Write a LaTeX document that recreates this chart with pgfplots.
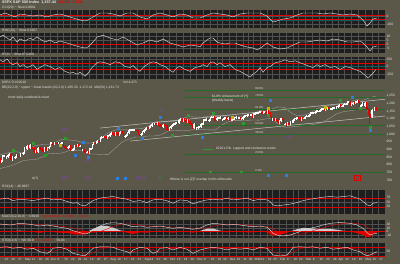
\documentclass[border=0pt]{standalone}
\usepackage{fontspec}
\setmainfont{Liberation Sans}
\usepackage{pgfplots}
\pgfplotsset{compat=1.18}
\usepackage{pgfplotstable}
\usepgfplotslibrary{fillbetween}
\definecolor{pagebg}{HTML}{5C5849}
\definecolor{panelbg}{HTML}{1E1E1E}
\definecolor{gridc}{HTML}{505050}
\definecolor{linec}{HTML}{D8D8D8}
\definecolor{redc}{HTML}{E00000}
\definecolor{tealc}{HTML}{0A5E60}
\definecolor{labc}{HTML}{E6E6E6}
\definecolor{fibg}{HTML}{256B25}
\definecolor{fibm}{HTML}{2F9A2F}
\definecolor{wavep}{HTML}{8A3CC8}
\definecolor{sigblue}{HTML}{2A7FE0}
\definecolor{sigyel}{HTML}{C8B400}
\definecolor{bandedge}{HTML}{A0A0A0}
\newcommand{\tf}{\fontsize{3.3pt}{3.6pt}\selectfont}
\newcommand{\fibfont}{\fontsize{2.8pt}{3pt}\selectfont}

\pgfplotstableread{
o c
797 811
811 834
834 843
843 835
835 816
816 825
825 857
857 859
859 842
842 852
852 865
865 870
870 832
832 850
850 844
844 852
852 866
866 858
858 855
855 874
874 873
873 878
878 907
907 904
904 920
920 907
907 929
929 909
909 908
908 884
884 893
893 883
883 910
910 908
908 903
903 888
888 887
887 910
910 893
893 907
907 919
919 943
943 945
945 932
932 942
942 940
940 939
939 942
942 939
939 945
945 946
946 924
924 912
912 911
911 918
918 921
921 893
893 895
895 901
901 920
920 919
919 927
927 919
919 923
923 896
896 899
899 881
881 880
880 883
883 879
879 901
901 906
906 933
933 941
941 940
940 951
951 955
955 954
954 976
976 979
979 982
982 980
980 975
975 987
987 987
987 1003
1003 1006
1006 1003
1003 997
997 1010
1010 1007
1007 994
994 1006
1006 1013
1013 1004
1004 980
980 990
990 996
996 1007
1007 1026
1026 1026
1026 1028
1028 1028
1028 1031
1031 1029
1029 1021
1021 998
998 995
995 1003
1003 1016
1016 1025
1025 1033
1033 1044
1044 1043
1043 1049
1049 1053
1053 1069
1069 1065
1065 1068
1068 1065
1065 1072
1072 1061
1061 1051
1051 1044
1044 1063
1063 1061
1061 1057
1057 1030
1030 1025
1025 1040
1040 1055
1055 1058
1058 1065
1065 1071
1071 1076
1076 1073
1073 1092
1092 1097
1097 1088
1088 1098
1098 1091
1091 1081
1081 1093
1093 1080
1080 1067
1067 1063
1063 1043
1043 1066
1066 1036
1036 1043
1043 1045
1045 1047
1047 1067
1067 1069
1069 1093
1093 1093
1093 1099
1099 1087
1087 1093
1093 1109
1109 1110
1110 1110
1110 1095
1095 1091
1091 1106
1106 1106
1106 1111
1111 1091
1091 1096
1096 1109
1109 1109
1109 1100
1100 1106
1106 1103
1103 1092
1092 1096
1096 1102
1102 1106
1106 1114
1114 1108
1108 1109
1109 1096
1096 1102
1102 1114
1114 1118
1118 1121
1121 1126
1126 1128
1128 1126
1126 1126
1126 1115
1115 1133
1133 1137
1137 1137
1137 1142
1142 1145
1145 1147
1147 1136
1136 1146
1146 1148
1148 1136
1136 1150
1150 1138
1138 1116
1116 1092
1092 1097
1097 1092
1092 1098
1098 1085
1085 1074
1074 1089
1089 1103
1103 1097
1097 1063
1063 1066
1066 1057
1057 1071
1071 1068
1068 1078
1078 1076
1076 1095
1095 1100
1100 1107
1107 1109
1109 1108
1108 1095
1095 1105
1105 1103
1103 1104
1104 1116
1116 1118
1118 1119
1119 1123
1123 1139
1139 1139
1139 1140
1140 1146
1146 1150
1150 1150
1150 1151
1151 1159
1159 1166
1166 1166
1166 1160
1160 1166
1166 1174
1174 1168
1168 1166
1166 1167
1167 1173
1173 1173
1173 1169
1169 1178
1178 1187
1187 1189
1189 1182
1182 1186
1186 1194
1194 1196
1196 1197
1197 1211
1211 1212
1212 1192
1192 1198
1198 1207
1207 1206
1206 1209
1209 1217
1217 1212
1212 1184
1184 1191
1191 1207
1207 1187
1187 1202
1202 1174
1174 1166
1166 1128
1128 1111
1111 1160
1160 1156
1156 1172
1172 1157
}\spx

\pgfplotstableread{
i u l
0 860 770
4 865 775
11 880 790
16 885 805
21 877 827
26 912 832
31 926 836
36 934 854
40 934 874
45 948 872
50 967 877
55 962 892
60 958 894
64 948 892
69 941 871
74 946 870
79 977 867
84 1008 868
89 1028 908
94 1029 949
99 1028 968
104 1037 981
109 1038 982
113 1048 988
118 1078 988
123 1086 996
128 1081 1021
133 1086 1026
138 1102 1022
143 1115 1025
148 1112 1032
153 1111 1031
158 1118 1028
163 1124 1028
167 1118 1058
172 1121 1081
177 1117 1089
182 1117 1089
186 1126 1090
190 1133 1093
195 1152 1092
200 1164 1100
204 1163 1103
209 1179 1069
214 1175 1045
219 1137 1047
223 1122 1052
228 1125 1055
233 1140 1060
238 1169 1069
243 1183 1083
248 1189 1109
252 1192 1132
257 1197 1147
262 1213 1153
267 1225 1161
272 1223 1173
277 1240 1140
281 1250 1110
}\bb

\pgfplotstableread{
px v
0 25
5 75
10 25
15 -25
20 50
27 25
33 0
40 25
47 -25
53 25
60 50
67 0
73 -50
80 -100
85 -125
88 -100
93 -25
100 75
107 75
113 50
120 0
127 75
133 75
140 -25
147 -75
153 25
160 75
167 25
173 -25
180 50
187 25
193 -50
200 -50
207 25
213 75
220 50
227 25
233 -25
240 50
247 75
253 75
260 75
267 0
273 -150
277 -125
283 -75
290 -50
297 25
303 75
310 75
317 75
323 50
330 75
337 50
343 25
350 50
357 25
363 -100
367 -250
370 -175
373 -75
377 -50
}\pone

\pgfplotstableread{
px v
0 8.75
3 11
7 7.5
10 5
13 8.75
17 2.5
20 6.25
25 3.75
30 7.5
33 5
37 8.75
40 6.25
45 2.5
50 5
55 1.25
60 3.75
67 1.25
73 -1.25
80 -3.75
85 -5
88 -3.75
93 2.5
97 8.75
103 11
110 7.5
117 5
123 8.75
130 3.75
137 -1.25
143 1.25
150 5
157 2.5
163 6.25
170 1.25
177 -1.25
183 -3.75
190 -1.25
197 -2.5
200 -3.75
203 1.25
207 5
210 7.5
213 7.5
217 2.5
220 1.25
225 0
230 1.25
235 1.25
240 -1.25
247 -3.75
253 -5
257 -7.5
262 -3.75
267 1.25
273 -3.75
280 -6.25
287 -5
293 -1.25
300 2.5
307 2.5
313 3.75
320 5
327 3.75
333 6.25
340 5
347 2.5
353 2.5
360 3.75
363 1.25
367 -3.75
370 -8.75
373 -3.75
377 -2.5
}\ptwo

\pgfplotstableread{
px v
0 219
3 156
7 250
10 125
13 63
17 125
20 0
23 63
27 -31
30 0
33 63
37 -94
40 -31
45 63
50 0
55 -94
60 -31
65 -156
70 -219
73 -188
77 -250
80 -188
85 -313
88 -219
92 -31
97 125
100 156
105 125
110 63
115 156
120 125
125 0
130 -31
133 31
137 -94
140 -156
143 -31
147 63
150 125
153 156
157 125
160 63
165 0
170 -125
173 -188
177 -31
180 0
185 -94
190 -156
195 -31
200 0
203 63
207 0
210 125
213 156
217 63
220 125
225 0
230 63
235 -94
240 -156
245 -250
250 -344
253 -250
257 -156
260 -31
263 -188
267 -31
270 0
275 125
280 156
285 219
290 156
295 188
300 125
305 63
310 0
313 -31
317 63
320 0
325 63
330 -31
335 0
340 -94
345 0
350 -31
355 -94
360 -156
365 -281
368 -375
372 -250
376 -94
}\pthree

\pgfplotstableread{
px v
0 64
7 69
13 58
20 64
27 61
33 58
40 64
47 69
53 61
60 64
67 54
73 46
77 49
80 39
85 34
88 43
93 58
100 69
107 73
113 76
120 69
127 64
133 54
140 58
147 49
153 61
160 64
167 57
173 46
180 61
187 58
193 43
200 54
207 61
213 64
220 61
227 69
233 61
240 64
247 69
253 58
260 64
267 61
270 54
273 39
277 34
283 38
290 42
297 49
303 58
310 64
317 69
323 73
330 76
337 73
343 76
350 79
357 69
360 64
363 54
367 39
370 34
373 46
377 49
}\rsi

\pgfplotstableread{
px m s
0 21.4 21
10 18.6 20.5
20 23.4 21
30 20.6 21
40 15.7 19.5
47 18.6 18
53 15.7 17
60 12.0 15.5
67 9.1 13
73 2.3 10
80 -3.4 5.5
85 -7.1 1
88 -5.1 -1.5
93 4.3 -3
100 15.7 0
107 23.4 7
113 25.1 14
120 23.4 20
127 18.6 22
133 13.7 21
140 15.7 18
147 12.0 15.5
153 13.7 14
160 15.7 14
167 12.0 13.5
173 9.1 12.5
180 12.0 11
187 9.1 10.5
193 6.3 9.5
200 10 8.5
207 18.6 10.5
213 23.4 15
220 21.4 19
227 18.6 21
233 20.6 20.5
240 18.6 20
247 15.7 18
253 13.7 16
260 15.7 15
267 12.0 14
270 4.3 12
273 -5.1 7
277 -10 1
283 -12.9 -6
290 -10 -10
297 -3.4 -10
303 4.3 -6
310 9.1 0
317 13.7 6
323 18.6 11
330 23.4 16
337 25.1 20
343 25.1 23
350 23.4 24
357 18.6 23
363 9.1 19
367 -3.4 13
370 -10 6
373 -7.1 0
377 -5.1 -4
}\macd

\pgfplotstableread{
px k d
0 77 75
7 80 77
13 71 76
20 77 75
27 65 72
33 71 70
40 50 64
47 40 55
50 50 48
53 71 52
60 77 64
67 65 72
73 40 62
80 30 45
85 26 33
88 40 31
93 71 45
100 80 64
107 80 77
113 77 79
120 61 74
127 50 62
130 40 52
133 61 50
140 77 60
147 71 70
153 40 62
157 50 52
160 71 52
167 75 65
173 61 70
180 77 70
187 65 68
193 40 60
200 61 54
207 71 58
213 77 70
220 71 74
227 61 70
233 71 67
240 65 67
247 71 68
253 61 66
260 77 70
267 71 72
270 50 66
273 30 50
280 24 34
287 30 27
290 50 34
293 77 50
300 80 68
307 77 78
313 80 79
320 71 77
327 77 76
333 65 72
340 71 70
347 77 71
353 61 70
360 50 62
363 36 50
367 26 37
370 30 30
373 40 32
377 50 40
}\sto

\pgfplotsset{
  panel/.style={
    scale only axis, width=385pt, anchor=north west,
    xmin=4.1, xmax=287.8,
    axis background/.style={fill=panelbg},
    axis line style={draw=none},
    tick style={draw=none},
    grid=major, major grid style={draw=gridc, line width=0.35pt},
    xtick={3,7,12,17,22,27,32,37,41,46,51,56,61,65,70,75,80,85,90,95,100,105,110,114,119,124,129,134,139,144,149,154,159,164,168,173,178,183,187,191,196,201,205,210,215,220,224,229,234,239,244,249,253,258,263,268,273,278,283},
    xticklabels={},
    yticklabel pos=right,
    yticklabel style={font=\tf, text=labc, inner sep=0.5pt, xshift=0.8pt},
    /pgf/number format/assume math mode=true,
  },
  table/osc/.style={x expr={(\thisrow{px}+5.6)/1.357}},
  table/candle/.style={x expr=\lineno, y expr={(\thisrow{o}+\thisrow{c})/2},
        y error expr={max(abs(\thisrow{c}-\thisrow{o})/2,3.5)}},
  table/wick/.style={x expr=\lineno, y expr={(\thisrow{o}+\thisrow{c})/2},
        y error expr={abs(\thisrow{c}-\thisrow{o})/2+6}},
}

\begin{document}
\begin{tikzpicture}
\fill[pagebg] (0,0) rectangle (400pt,-264pt);

% ---------- panel 1
\begin{axis}[panel, at={(0pt,-10pt)}, height=18pt, ymin=-300, ymax=150, ytick={-200,0}]
\addplot[tealc, line width=0.3pt] coordinates {(4,-115) (288,-115)};
\addplot[redc, line width=0.5pt] coordinates {(4,25) (288,25)};
\addplot[redc, line width=0.5pt] coordinates {(4,-75) (288,-75)};
\addplot[linec, line width=0.45pt] table[osc, y=v] {\pone};
\end{axis}

% ---------- panel 2
\begin{axis}[panel, at={(0pt,-33pt)}, height=20pt, ymin=-11.25, ymax=13.75, ytick={-5,0,5,10}]
\addplot[redc, line width=0.5pt] coordinates {(4,0) (288,0)};
\addplot[linec, line width=0.45pt] table[osc, y=v] {\ptwo};
\end{axis}

% ---------- panel 3
\begin{axis}[panel, at={(0pt,-57pt)}, height=22pt, ymin=-406, ymax=312, ytick={-250,0,250}]
\addplot[tealc, line width=0.3pt] coordinates {(4,0) (288,0)};
\addplot[redc, line width=0.5pt] coordinates {(4,100) (288,100)};
\addplot[redc, line width=0.5pt] coordinates {(4,-100) (288,-100)};
\addplot[linec, line width=0.45pt] table[osc, y=v] {\pthree};
\end{axis}

% ---------- main price panel
\begin{axis}[panel, at={(0pt,-80.5pt)}, height=102.5pt, ymin=680.4, ymax=1351.5,
  ytick={700,750,...,1250}, yticklabel style={/pgf/number format/1000 sep={,}}]
\addplot[name path=bbu, draw=none] table[x=i, y=u] {\bb};
\addplot[name path=bbl, draw=none] table[x=i, y=l] {\bb};
\addplot[fill=white, fill opacity=0.3, draw=none] fill between[of=bbu and bbl];
\addplot[bandedge, line width=0.35pt] table[x=i, y=u] {\bb};
\addplot[bandedge, line width=0.35pt] table[x=i, y=l] {\bb};
% fib levels
\addplot[fibg, line width=0.35pt] coordinates {(140,1289) (290,1289)};
\addplot[fibg, line width=0.35pt] coordinates {(140,1243) (290,1243)};
\addplot[fibg, line width=0.35pt] coordinates {(140,1165) (290,1165)};
\addplot[fibg, line width=0.35pt] coordinates {(140,1060) (290,1060)};
\addplot[fibg, line width=0.35pt] coordinates {(140,1001) (290,1001)};
\addplot[fibg, line width=0.35pt] coordinates {(140,870) (290,870)};
\addplot[fibg, line width=0.35pt] coordinates {(140,752) (290,752)};
% trend channel
\addplot[white!80!black, line width=0.45pt] coordinates {(77.8,1040) (289.3,1230)};
\addplot[white!80!black, line width=0.45pt] coordinates {(100,955) (288,1119)};
% candles: wicks then bodies
\addplot[draw=none, restrict expr to domain={\thisrow{c}-\thisrow{o}}{0:1000},
  error bars/.cd, y dir=both, y explicit, error mark=none,
  error bar style={draw=white, line width=0.35pt}] table[wick] {\spx};
\addplot[draw=none, restrict expr to domain={\thisrow{c}-\thisrow{o}}{-1000:-0.5},
  error bars/.cd, y dir=both, y explicit, error mark=none,
  error bar style={draw=redc, line width=0.35pt}] table[wick] {\spx};
\addplot[draw=none, restrict expr to domain={\thisrow{c}-\thisrow{o}}{0:1000},
  error bars/.cd, y dir=both, y explicit, error mark=none,
  error bar style={draw=white, line width=1.05pt}] table[candle] {\spx};
\addplot[draw=none, restrict expr to domain={\thisrow{c}-\thisrow{o}}{-1000:-0.5},
  error bars/.cd, y dir=both, y explicit, error mark=none,
  error bar style={draw=redc, line width=1.05pt}] table[candle] {\spx};
\addplot[redc, line width=0.45pt] coordinates {(276,1065) (276,1167)};
% signal markers
\addplot[only marks, mark=square*, mark size=0.9pt, fibm] coordinates {(13.7,896) (28.4,942) (37.3,864) (52.0,975) (130.9,995) (142.7,1126) (161.1,1139) (183.2,1073) (201.6,1126) (254.7,1224) (269.4,1171) (276.8,1047)};
\addplot[only marks, mark=square*, mark size=0.9pt, sigblue] coordinates {(59.4,864) (65.3,949) (69,851) (91.1,1040) (108.8,975) (122,1112) (153,981) (203,1224) (263.5,1243) (276.8,1027)};
\addplot[only marks, mark=square*, mark size=0.9pt, sigyel] coordinates {(48.3,929) (175.1,1112) (201.6,1171) (243.6,1178)};
\addplot[fibm, line width=0.9pt] coordinates {(154,903) (161,903)};
% annotations
\node[anchor=west, text=labc, font=\tf, inner sep=0] at (axis cs:10,1237) {Inner daily candlestick chart};
\node[text=wavep, font=\fontsize{4}{4}\selectfont, inner sep=0] at (axis cs:52,1027) {(W)};
\node[text=wavep, font=\fontsize{4}{4}\selectfont, inner sep=0] at (axis cs:69,824) {(X)};
\node[text=wavep, font=\fontsize{4}{4}\selectfont, inner sep=0] at (axis cs:123,1152) {(Y)};
\node[text=wavep, font=\fontsize{4}{4}\selectfont, inner sep=0] at (axis cs:217,981) {(X)};
\node[anchor=west, text=labc, font=\tf, inner sep=0] at (axis cs:160,1243) {61.8\% retracement of [Y]};
\node[anchor=west, text=labc, font=\tf, inner sep=0] at (axis cs:160,1219) {(Weekly basis)};
\node[anchor=west, text=labc, font=\tf, inner sep=0] at (axis cs:163,903) {2010's Fib. support and resistance levels};
\node[anchor=west, text=labc, font=\tf, inner sep=0] at (axis cs:129.4,705) {Where is our [Z]? overlap in this silhouette};
\node[text=redc, draw=redc, line width=0.3pt, font=\fontsize{4.5}{4.5}\selectfont, inner sep=0.4pt] at (axis cs:267,713) {[2]};
\node[text=labc, font=\tf, inner sep=0] at (axis cs:30,710) {A(?)};
\node[text=wavep, font=\fontsize{4}{4}\selectfont, inner sep=0] at (axis cs:52,710) {(W)};
\node[text=wavep, font=\fontsize{4}{4}\selectfont, inner sep=0] at (axis cs:69,710) {(X)};
\node[text=wavep, font=\fontsize{4}{4}\selectfont, inner sep=0] at (axis cs:108,710) {(Y)(a)};
\node[text=fibm, font=\tf, inner sep=0] at (axis cs:122,712) {B};
\addplot[only marks, mark=square*, mark size=0.8pt, sigblue] coordinates {(90.3,712) (96.2,712) (201.6,730) (214.9,730)};
\addplot[only marks, mark=square*, mark size=0.8pt, fibm] coordinates {(159,755) (182,755)};
\node[anchor=south west, text=labc, font=\fibfont, inner sep=0.3pt] at (axis cs:192,1289) {88.6\%};
\node[anchor=south west, text=labc, font=\fibfont, inner sep=0.3pt] at (axis cs:192,1243) {78.6\%};
\node[anchor=south west, text=labc, font=\fibfont, inner sep=0.3pt] at (axis cs:192,1165) {61.8\%};
\node[anchor=south west, text=labc, font=\fibfont, inner sep=0.3pt] at (axis cs:192,1060) {50.0\%};
\node[anchor=south west, text=labc, font=\fibfont, inner sep=0.3pt] at (axis cs:192,1001) {38.2\%};
\node[anchor=south west, text=labc, font=\fibfont, inner sep=0.3pt] at (axis cs:192,870) {23.6\%};
\node[anchor=south west, text=labc, font=\fibfont, inner sep=0.3pt] at (axis cs:192,752) {0.0\%};
\end{axis}

% ---------- RSI
\begin{axis}[panel, at={(0pt,-190pt)}, height=23.6pt, ymin=0, ymax=105, ytick={30,50,70}]
\addplot[redc, line width=0.5pt] coordinates {(4,70) (288,70)};
\addplot[redc, line width=0.5pt] coordinates {(4,30) (288,30)};
\addplot[linec, line width=0.45pt] table[osc, y=v] {\rsi};
\end{axis}

% ---------- MACD
\begin{axis}[panel, at={(0pt,-220pt)}, height=18pt, ymin=-18.6, ymax=32.9, ytick={-10,0,10,20}]
\addplot[fill=white!80!black, draw=none] table[osc, y expr={max(\thisrow{m}-\thisrow{s},0)}] {\macd} \closedcycle;
\addplot[fill=redc, draw=none] table[osc, y expr={min(\thisrow{m}-\thisrow{s},0)}] {\macd} \closedcycle;
\addplot[redc, line width=0.4pt] coordinates {(4,0) (288,0)};
\addplot[redc, line width=0.4pt] table[osc, y=s] {\macd};
\addplot[linec, line width=0.45pt] table[osc, y=m] {\macd};
\end{axis}

% ---------- STO
\begin{axis}[panel, at={(0pt,-243.5pt)}, height=14pt, ymin=15, ymax=100, ytick={50},
  xticklabels={Apr,13,20,27,May,11,18,26,Jun,8,15,22,29,Jul,13,20,27,Aug,10,17,24,31,Sep,14,21,28,Oct,12,19,26,Nov,9,16,23,30,Dec,14,21,28,2010,11,19,25,Feb,8,16,22,Mar,8,15,22,29,Apr,12,19,26,May,10,17},
  xticklabel style={font=\fontsize{3pt}{3.2pt}\selectfont, text=labc, anchor=north west, inner sep=0.4pt, xshift=0.2pt}]
\addplot[redc, line width=0.5pt] coordinates {(4,80) (288,80)};
\addplot[redc, line width=0.5pt] coordinates {(4,20) (288,20)};
\addplot[redc, line width=0.4pt] table[osc, y=d] {\sto};
\addplot[linec, line width=0.45pt] table[osc, y=k] {\sto};
\end{axis}

% ---------- header labels
\node[anchor=west, inner sep=0, font=\fontsize{3.8pt}{4pt}\selectfont\bfseries, text=labc] at (2pt,-2.6pt) {\$SPX S\&P 500 Index \ 1,157.44 \textcolor{redc}{\ -14.23 \ -1.21\%}};
\node[anchor=west, inner sep=0, font=\tf, text=labc] at (2pt,-7.3pt) {CCI(20) \textasciitilde\ Slow 0.0001};
\node[anchor=west, inner sep=0, font=\tf, text=labc] at (2pt,-30.8pt) {ROC(10) \textasciitilde\ Slow 0.0057};
\node[anchor=west, inner sep=0, font=\tf, text=labc] at (2pt,-54.8pt) {RCCI \textasciitilde\ Slow 87.0160};
\node[anchor=west, inner sep=0, font=\tf, text=labc] at (2pt,-82.8pt) {\$SPX 5/13/2010 \hspace{95pt} Vol 4,473};
\node[anchor=west, inner sep=0, font=\tf, text=labc] at (2pt,-87.2pt) {BB(20,2.0) \textasciitilde\ upper \textasciitilde\ lower bands (20,2.0) 1,185.33, 1,172.41 \ MA(50) 1,131.73};
\node[anchor=west, inner sep=0, font=\tf, text=labc] at (2pt,-187pt) {RSI(14) \textasciitilde\ 46.0987};
\node[anchor=west, inner sep=0, font=\tf, text=labc] at (2pt,-216.5pt) {MACD(12,26,9) \textasciitilde\ 3.6939 \textcolor{redc}{\textasciitilde\ signal (delta: 5.7090) \textasciitilde\ -2.0151}};
\node[anchor=west, inner sep=0, font=\tf, text=labc] at (2pt,-240.8pt) {STO(14,3) \textasciitilde\ \%K 59.9 \textcolor{redc}{\%D 62.28771} \ 56.84};

\pgfresetboundingbox
\path[use as bounding box] (0,0) rectangle (400pt,-264pt);
\end{tikzpicture}
\end{document}
